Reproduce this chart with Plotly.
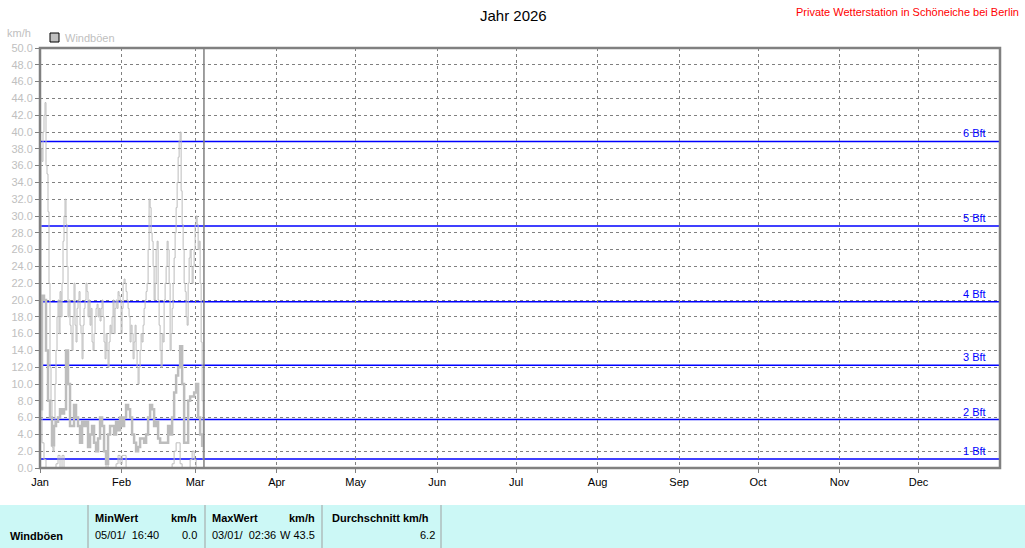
import pandas as pd
import plotly.graph_objects as go

# ---------------- data ----------------
months = ["Jan", "Feb", "Mar", "Apr", "May", "Jun", "Jul", "Aug", "Sep", "Oct", "Nov", "Dec"]
month_starts = [f"2026-{m:02d}-01" for m in range(1, 13)]

gust_max = [20.5, 38, 36.5, 40, 42, 43.5, 36, 35, 30.5, 22, 12, 8, 2.5, 2, 5, 10, 14, 18, 20, 16,
            21, 18, 22, 27, 30, 32, 29, 24, 18, 20, 17, 16, 14, 18, 22, 17, 15, 19, 20, 21,
            17, 16, 13, 17, 19, 20, 22, 21, 18, 20, 17, 19, 15, 14, 16, 18, 19, 19.5, 18, 19,
            17.5, 19, 20, 18, 15, 13, 16, 14, 12, 15, 17, 16, 18, 20, 16, 19, 20, 19, 21, 20.5,
            20, 16, 19, 22, 22.5, 22, 21, 20, 19, 18, 15, 17, 16, 13, 15, 17, 14, 12, 10, 12,
            14, 16, 15, 17, 19, 20, 21, 22, 26, 32, 31, 28, 27, 24, 20, 22, 26, 27, 20, 17,
            14, 12, 16, 15, 20, 22, 24, 27, 26, 22, 14, 16, 19, 22, 25, 28, 31, 34, 37, 39,
            40, 33, 29, 26, 22, 21, 18, 17, 22, 25, 26, 24, 22, 24, 26, 29, 30, 29, 26, 27,
            22, 15, 8, 1]

gust_mean = [7, 20.5, 20, 14, 8, 6, 2.7, 5, 5.5, 6, 7, 6.5, 7, 14, 10, 5, 5, 7.5, 6, 5,
             3, 5.5, 5, 5.5, 2.5, 4, 5, 3, 2, 3.5, 6, 5, 2, 0.5, 4, 5, 5, 4, 5.5, 4.5,
             6, 5, 6, 7.5, 7, 6, 4, 3, 2, 2.5, 3.5, 3.5, 3, 4, 6, 7.5, 7, 5, 5.5, 3.5,
             3, 3, 3, 3, 5, 4, 6, 9, 11, 12, 14.5, 10, 3, 3, 8, 8.5, 8.5, 9, 10, 6,
             4, 2.5]

gust_min = [7, 3, 1, 0, 0, 0, 0, 0, 0.5, 1.5, 0, 1.5, 0,
            0, 0, 0, 0, 0, 0, 0, 0, 0, 0, 0, 0, 0, 0, 0, 0, 0, 0, 0, 0,
            0.5, 0, 0, 0, 0, 0.5, 1.5, 0.5, 1.5, 1.5, 0,
            0, 0, 0, 0, 0, 0, 0, 0, 0, 0, 0, 0, 0, 0, 0, 0, 0, 0, 0, 0, 0, 0,
            0.5, 2, 3, 3, 0.5, 0, 0, 0, 0, 1, 2, 1, 0, 0, 0, 0]

bft_levels = [1.08, 5.76, 12.24, 19.8, 28.8, 38.88]
bft_labels = ["1 Bft", "2 Bft", "3 Bft", "4 Bft", "5 Bft", "6 Bft"]

now_marker = "2026-03-04 08:00"

table_headers = ["MinWert", "MaxWert", "Durchschnitt km/h"]
table_row = ["05/01/  16:40", "0.0", "03/01/  02:36", "W 43.5", "6.2"]

t_max = pd.date_range("2026-01-01", periods=len(gust_max), freq="548min")
t_mean = pd.date_range("2026-01-01", periods=len(gust_mean), freq="1096min")
t_min = pd.date_range("2026-01-01", periods=len(gust_min), freq="1096min")

# ---------------- layout helpers ----------------
W, H = 1025, 548
L, R, T, B = 40, 1000, 48, 468


def px(x):
    return (x - L) / (R - L)


def py(y):
    return (B - y) / (B - T)


FONT = "Liberation Sans, Arial, sans-serif"
GRAY = "#c0c0c0"
DGRAY = "#808080"

fig = go.Figure()
line_gray = "#bdbdbd"
fig.add_trace(go.Scatter(x=t_min, y=gust_min, mode="lines", line=dict(color=line_gray, width=1, shape="hv"), showlegend=False, hoverinfo="skip"))
fig.add_trace(go.Scatter(x=t_max, y=gust_max, mode="lines", line=dict(color=line_gray, width=1, shape="hv"), showlegend=False, hoverinfo="skip"))
fig.add_trace(go.Scatter(x=t_mean, y=gust_mean, mode="lines", line=dict(color=line_gray, width=2.5, shape="hv"), showlegend=False, hoverinfo="skip"))

shapes = []
annotations = []

# Beaufort lines
for lvl, lab in zip(bft_levels, bft_labels):
    shapes.append(dict(type="line", xref="paper", yref="y", x0=0, x1=1, y0=lvl, y1=lvl,
                       line=dict(color="#0000ff", width=1.5), layer="between"))
    annotations.append(dict(text=lab, xref="paper", yref="y", x=px(988), y=lvl, yshift=0,
                            xanchor="right", yanchor="bottom", showarrow=False,
                            font=dict(family=FONT, size=11, color="#0000ff")))

# current-date marker
shapes.append(dict(type="line", xref="x", yref="paper", x0=now_marker, x1=now_marker, y0=0, y1=1,
                   line=dict(color=DGRAY, width=1.5)))

# frame
shapes.append(dict(type="rect", xref="paper", yref="paper", x0=0, x1=1, y0=0, y1=1,
                   line=dict(color=DGRAY, width=2.5), layer="above"))

# legend
shapes.append(dict(type="rect", xref="paper", yref="paper", x0=px(50), x1=px(59), y0=py(42), y1=py(33),
                   fillcolor=GRAY, line=dict(color="black", width=1)))
annotations.append(dict(text="Windböen", xref="paper", yref="paper", x=px(63), y=py(38),
                        xanchor="left", yanchor="middle", showarrow=False,
                        font=dict(family=FONT, size=11, color=GRAY)))
annotations.append(dict(text="km/h", xref="paper", yref="paper", x=px(5), y=py(33),
                        xanchor="left", yanchor="middle", showarrow=False,
                        font=dict(family=FONT, size=11, color=GRAY)))

# titles
annotations.append(dict(text="Jahr 2026", xref="paper", yref="paper", x=px(513), y=py(15),
                        xanchor="center", yanchor="middle", showarrow=False,
                        font=dict(family=FONT, size=15, color="black")))
annotations.append(dict(text="Private Wetterstation in Schöneiche bei Berlin", xref="paper", yref="paper",
                        x=px(1021), y=py(12), xanchor="right", yanchor="middle", showarrow=False,
                        font=dict(family=FONT, size=11, color="#ff0000")))

# bottom table
shapes.append(dict(type="rect", xref="paper", yref="paper", x0=px(0), x1=px(W), y0=py(W), y1=py(505),
                   fillcolor="#ccf8f6", line=dict(width=0), layer="below"))
for sx in [88, 205, 322, 441]:
    shapes.append(dict(type="line", xref="paper", yref="paper", x0=px(sx), x1=px(sx), y0=py(560), y1=py(505),
                       line=dict(color="#a0a0a0", width=1)))


def txt(s, x, y, anchor="left", bold=False):
    annotations.append(dict(text=f"<b>{s}</b>" if bold else s, xref="paper", yref="paper", x=px(x), y=py(y),
                            xanchor=anchor, yanchor="middle", showarrow=False,
                            font=dict(family=FONT, size=11, color="black")))


txt(table_headers[0], 93, 518, bold=True)
txt("km/h", 199, 518, anchor="right", bold=True)
txt(table_headers[1], 210, 518, bold=True)
txt("km/h", 317, 518, anchor="right", bold=True)
txt(table_headers[2], 330, 518, bold=True)
txt("Windböen", 8, 536, bold=True)
txt(table_row[0], 93, 535)
txt(table_row[1], 199, 535, anchor="right")
txt(table_row[2], 210, 535)
txt(table_row[3], 317, 535, anchor="right")
txt(table_row[4], 437, 535, anchor="right")

fig.update_layout(
    width=W, height=H,
    margin=dict(l=L, r=W - R, t=T, b=H - B),
    paper_bgcolor="white", plot_bgcolor="white",
    showlegend=False,
    shapes=shapes, annotations=annotations,
    xaxis=dict(type="date", range=["2026-01-01", "2027-01-01"],
               tickvals=month_starts, ticktext=months,
               showgrid=True, gridcolor=DGRAY, griddash="3px,3px", gridwidth=1,
               ticks="outside", ticklen=4, tickcolor=DGRAY,
               tickfont=dict(family=FONT, size=11, color="black"),
               showline=False, zeroline=False, fixedrange=True),
    yaxis=dict(range=[0, 50], dtick=2, tick0=0, tickformat=".1f",
               showgrid=True, gridcolor=DGRAY, griddash="3px,3px", gridwidth=1,
               ticks="outside", ticklen=4, tickcolor=DGRAY,
               tickfont=dict(family=FONT, size=11, color=GRAY),
               showline=False, zeroline=False, fixedrange=True),
)

fig.write_html("out.html", config={"displayModeBar": False},
               post_script="document.body.style.margin='0';document.body.style.overflow='hidden';")
